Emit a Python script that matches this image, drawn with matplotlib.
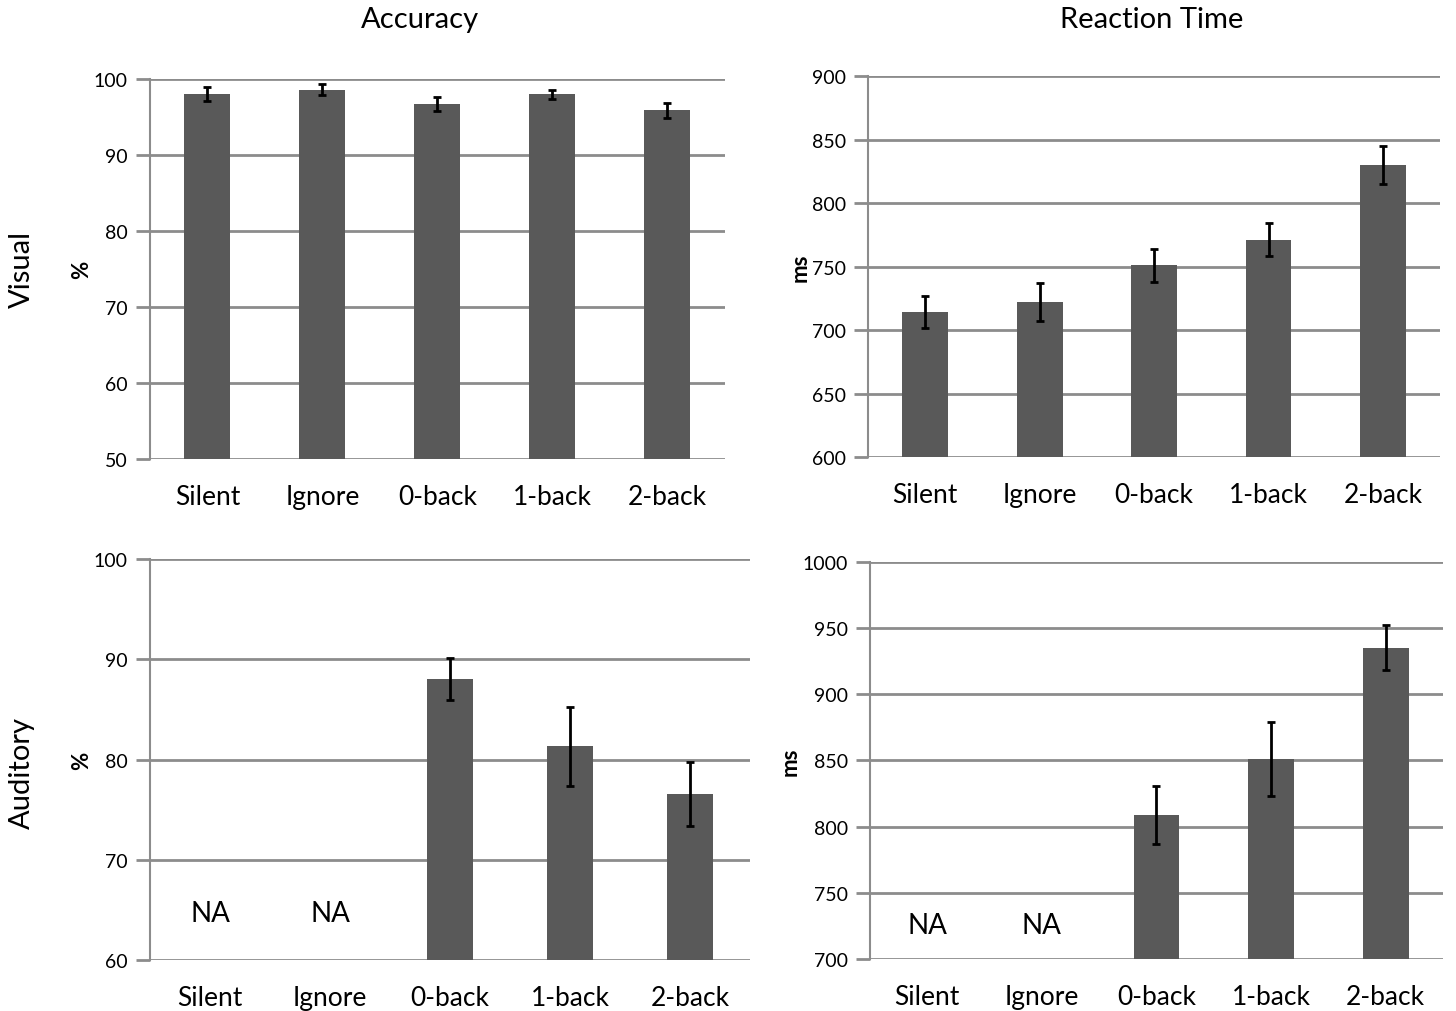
import numpy as np
import matplotlib
matplotlib.use('Agg')
import matplotlib.pyplot as plt

plt.rcParams['font.family'] = ['Lato', 'DejaVu Sans']

# ============ DATA ============
conditions = ['Silent', 'Ignore', '0-back', '1-back', '2-back']

vis_acc = [98.0, 98.6, 96.7, 98.0, 95.9]
vis_acc_err = [0.9, 0.75, 0.9, 0.6, 1.0]
vis_rt = [714, 722, 751, 771, 830]
vis_rt_err = [12.5, 15, 13, 13, 15]

aud_acc = [np.nan, np.nan, 88.0, 81.3, 76.6]
aud_acc_err = [np.nan, np.nan, 2.1, 3.9, 3.2]
aud_rt = [np.nan, np.nan, 809, 851, 935]
aud_rt_err = [np.nan, np.nan, 22, 28, 17]

BAR = '#595959'
GRID = '#8c8c8c'

fig = plt.figure(figsize=(14.56, 10.12), dpi=100)

panels = [
    # rect, values, errors, ylim, step, ylabel, bar width, NA y
    ([0.1030, 0.5455, 0.3949, 0.3755], vis_acc, vis_acc_err, (50, 100), 10, '%', 0.4, None),
    ([0.5962, 0.5474, 0.3929, 0.3765], vis_rt, vis_rt_err, (600, 900), 50, 'ms', 0.4, None),
    ([0.1030, 0.0504, 0.4121, 0.3962], aud_acc, aud_acc_err, (60, 100), 10, '%', 0.38, 64.7),
    ([0.5975, 0.0514, 0.3935, 0.3923], aud_rt, aud_rt_err, (700, 1000), 50, 'ms', 0.4, 726),
]

x = np.arange(len(conditions))
for rect, vals, errs, ylim, step, ylab, bw, na_y in panels:
    ax = fig.add_axes(rect)
    vals = np.array(vals, dtype=float)
    errs = np.array(errs, dtype=float)
    ok = ~np.isnan(vals)
    ax.bar(x[ok], vals[ok], width=bw, color=BAR, zorder=3)
    ax.errorbar(x[ok], vals[ok], yerr=errs[ok], fmt='none', ecolor='black',
                elinewidth=2, capsize=3, capthick=2, zorder=4)
    ax.set_xlim(-0.5, len(conditions) - 0.5)
    ax.set_ylim(*ylim)
    ax.set_yticks(np.arange(ylim[0], ylim[1] + step / 2, step))
    ax.yaxis.grid(True, color=GRID, linewidth=2, zorder=0)
    ax.set_axisbelow(True)
    for s in ['top', 'right', 'bottom']:
        ax.spines[s].set_visible(False)
    ax.spines['left'].set_color(GRID)
    ax.spines['left'].set_linewidth(1.5)
    ax.tick_params(axis='y', length=10, width=2, color=GRID, labelsize=14, pad=6)
    ax.tick_params(axis='x', length=0, labelsize=19, pad=18)
    ax.set_xticks(x)
    ax.set_xticklabels(conditions)
    ax.set_ylabel(ylab, fontsize=16, fontweight='bold', labelpad=1)
    if na_y is not None:
        for i in np.where(~ok)[0]:
            ax.text(x[i], na_y, 'NA', ha='center', va='center', fontsize=20)

fig.text(420 / 1456, 1 - 20 / 1012, 'Accuracy', ha='center', va='center', fontsize=21)
fig.text(1152 / 1456, 1 - 20 / 1012, 'Reaction Time', ha='center', va='center', fontsize=21)
fig.text(22 / 1456, 1 - 270 / 1012, 'Visual', ha='center', va='center', fontsize=21, rotation=90)
fig.text(22 / 1456, 1 - 773 / 1012, 'Auditory', ha='center', va='center', fontsize=21, rotation=90)

plt.savefig('out.png', dpi=100)
